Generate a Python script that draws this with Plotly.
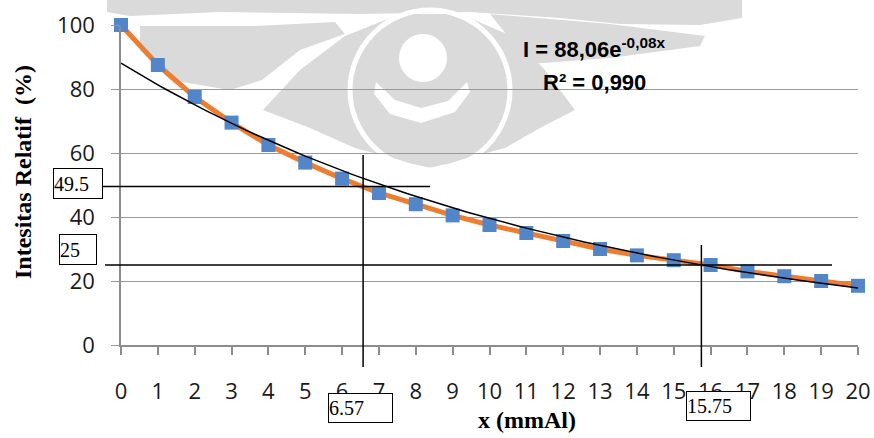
import numpy as np
import plotly.graph_objects as go

# ---- data ----
x_mmAl = list(range(0, 21))
intensitas = [100, 87.5, 77.5, 69.5, 62.5, 57, 52, 47.5, 44, 40.5, 37.5,
              35, 32.5, 30, 28, 26.5, 25, 23, 21.5, 20, 18.5]
trend_a = 88.06
trend_b = 0.08
x_ticks = list(range(0, 21))
y_ticks = [0, 20, 40, 60, 80, 100]
ref_y = [49.5, 25]
ref_x = [6.57, 15.75]
eq_text = "I = 88,06e<sup>-0,08x</sup>"
r2_text = "R² = 0,990"

trend_x = np.linspace(0, 20, 101)
trend_y = trend_a * np.exp(-trend_b * trend_x)

# plot-area geometry (pixels) for paper-coordinate helpers
W, H = 874, 438
L, R, T, B = 121, 16, 25, 93
PW, PH = W - L - R, H - T - B
def px(xp): return (xp - L) / PW
def py(yp): return (H - B - yp) / PH

fig = go.Figure()
fig.add_trace(go.Scatter(x=x_mmAl, y=intensitas, mode="lines",
                         line=dict(color="#ED7D31", width=5), cliponaxis=False,
                         showlegend=False, hoverinfo="skip"))
fig.add_trace(go.Scatter(x=x_mmAl, y=intensitas, mode="markers",
                         marker=dict(symbol="square", size=14, color="#5286C8"),
                         cliponaxis=False, showlegend=False))
fig.add_trace(go.Scatter(x=trend_x, y=trend_y, mode="lines",
                         line=dict(color="black", width=1.5), cliponaxis=False,
                         showlegend=False, hoverinfo="skip"))

shapes = []
# ---- faded watermark emblem (background decoration, paper coords) ----
WM = "#dadada"
def poly(pts, color=WM):
    d = "M " + " L ".join(f"{px(a):.4f},{py(b):.4f}" for a, b in pts) + " Z"
    return dict(type="path", xref="paper", yref="paper", path=d, fillcolor=color,
                line=dict(width=0), layer="below")
def circ(cx, cy, r, fill=None, line=None):
    return dict(type="circle", xref="paper", yref="paper", x0=px(cx - r), x1=px(cx + r),
                y0=py(cy + r), y1=py(cy - r), fillcolor=fill or "rgba(0,0,0,0)",
                line=line or dict(width=0), layer="below")
# top band and wings
shapes.append(poly([(107, 0), (742, 0), (742, 18), (700, 25), (620, 24), (560, 18),
                    (470, 12), (360, 14), (220, 12), (130, 16), (107, 12)]))
shapes.append(poly([(140, 26), (255, 26), (335, 22), (345, 34), (300, 50), (262, 80),
                    (230, 90), (170, 80), (140, 50)]))
shapes.append(poly([(490, 14), (610, 24), (705, 36), (700, 46), (610, 58), (530, 64)]))
# eye-shaped wedges around the central disc
shapes.append(poly([(263, 110), (300, 70), (345, 36), (400, 14), (460, 14), (512, 36),
                    (545, 70), (575, 110), (540, 128), (505, 148), (430, 168),
                    (355, 148), (310, 128)]))
# white gap ring, central disc, white dot and crescent
shapes.append(circ(430, 90, 80, line=dict(color="white", width=5)))
shapes.append(circ(430, 90, 76, fill=WM))
shapes.append(circ(423, 58, 24, fill="white"))
shapes.append(poly([(376, 82), (395, 100), (421, 108), (448, 101), (467, 82),
                    (470, 92), (455, 112), (421, 123), (390, 114), (374, 94)], "white"))

# reference lines
shapes.append(dict(type="line", xref="paper", yref="y", x0=px(103), x1=px(430),
                   y0=ref_y[0], y1=ref_y[0], line=dict(color="black", width=1.5)))
shapes.append(dict(type="line", xref="paper", yref="y", x0=px(105), x1=px(832),
                   y0=ref_y[1], y1=ref_y[1], line=dict(color="black", width=1.5)))
shapes.append(dict(type="line", xref="x", yref="paper", x0=ref_x[0], x1=ref_x[0],
                   y0=py(155), y1=py(367), line=dict(color="black", width=1.5)))
shapes.append(dict(type="line", xref="x", yref="paper", x0=ref_x[1], x1=ref_x[1],
                   y0=py(245), y1=py(367), line=dict(color="black", width=1.5)))

serif = "Liberation Serif, Times New Roman, serif"
annotations = []
def box(label, left, top, w, h):
    annotations.append(dict(text=label, xref="paper", yref="paper", x=px(left), y=py(top),
                            xanchor="left", yanchor="top", showarrow=False, align="left",
                            width=w - 2, height=h - 2, borderpad=0, borderwidth=1,
                            bordercolor="black", bgcolor="white",
                            font=dict(family=serif, size=20, color="black")))
box("49.5", 53, 168, 50, 31)
box("25", 59, 234, 38, 31)
box("6.57", 328, 393, 65, 30)
box("15.75", 686, 391, 65, 30)

eqfont = dict(family="Liberation Sans Narrow, Liberation Sans, Arial", size=22, color="black")
annotations.append(dict(text="<b>" + eq_text + "</b>", xref="paper", yref="paper",
                        x=px(594), y=py(48), xanchor="center", yanchor="middle",
                        showarrow=False, font=eqfont))
annotations.append(dict(text="<b>" + r2_text + "</b>", xref="paper", yref="paper",
                        x=px(594), y=py(82), xanchor="center", yanchor="middle",
                        showarrow=False, font=eqfont))
annotations.append(dict(text="<b>x (mmAl)</b>", xref="paper", yref="paper",
                        x=px(527), y=py(420), xanchor="center", yanchor="middle",
                        showarrow=False, font=dict(family=serif, size=24, color="black")))
annotations.append(dict(text="<b>Intesitas Relatif  (%)</b>", xref="paper", yref="paper",
                        x=px(23), y=py(172), xanchor="center", yanchor="middle",
                        textangle=-90, showarrow=False,
                        font=dict(family=serif, size=24, color="black")))

fig.update_layout(
    width=W, height=H, margin=dict(l=L, r=R, t=T, b=B, autoexpand=False),
    paper_bgcolor="white", plot_bgcolor="rgba(0,0,0,0)",
    shapes=shapes, annotations=annotations, showlegend=False,
    font=dict(family="Open Sans, sans-serif", size=22, color="#1a1a1a"),
)
fig.update_xaxes(range=[0, 20], tickvals=x_ticks, showgrid=False, zeroline=False,
                 showline=True, linecolor="#8c8c8c", linewidth=1.5, automargin=False,
                 ticks="outside", ticklen=8, tickcolor="#8c8c8c", tickwidth=1.5,
                 ticklabelstandoff=18)
fig.update_yaxes(range=[0, 100], tickvals=y_ticks, showgrid=True, gridcolor="#9a9a9a",
                 gridwidth=1.3, zeroline=False, showline=True, linecolor="#8c8c8c",
                 linewidth=1.5, ticks="outside", ticklen=8, tickcolor="#9a9a9a",
                 tickwidth=1.3, ticklabelstandoff=12, automargin=False)

fig.write_html("out.html")
